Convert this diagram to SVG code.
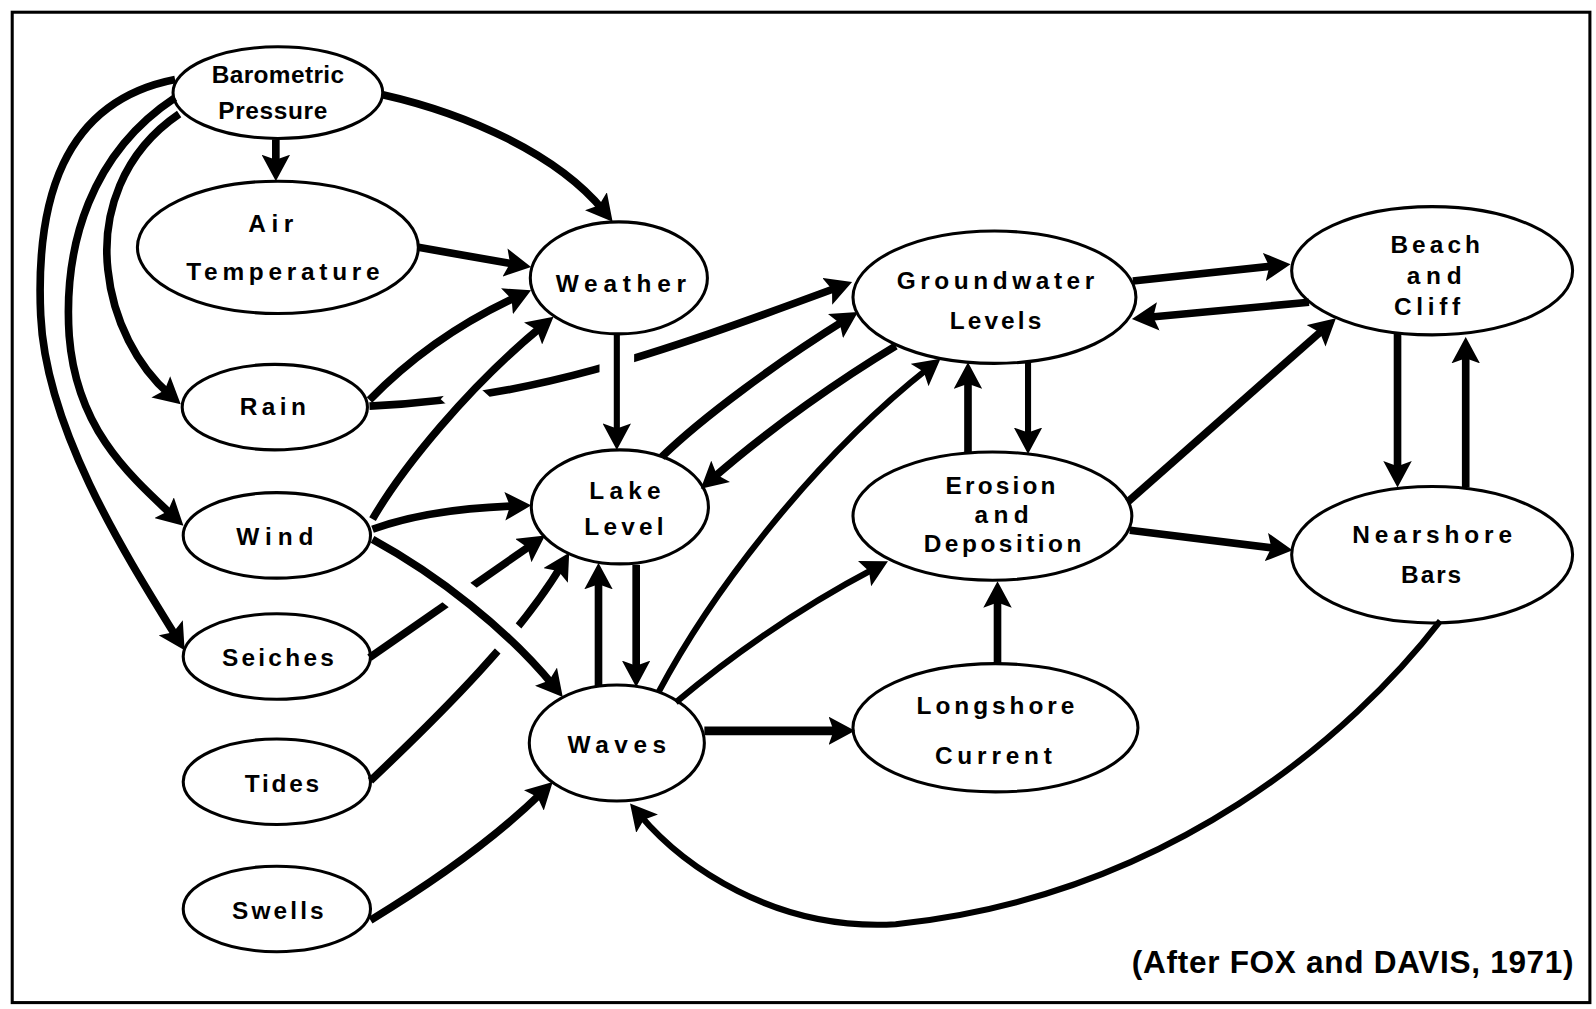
<svg xmlns="http://www.w3.org/2000/svg" width="1596" height="1009" viewBox="0 0 1596 1009">
<defs>
<style>
.node ellipse{fill:#fff;stroke:#000;stroke-width:3}
.node text,.cap{font-family:"Liberation Sans",Arial,sans-serif;font-weight:bold;font-size:24px;fill:#000;text-anchor:middle}
.cap{font-size:31px;text-anchor:end}
.c{fill:none;stroke:#000;stroke-width:7.5;marker-end:url(#ah)}
.t{stroke-width:6}
.gap{fill:none;stroke:#fff;stroke-width:34}
</style>
<marker id="ah" viewBox="0 0 26 28" refX="12" refY="14" markerWidth="26" markerHeight="28" markerUnits="userSpaceOnUse" orient="auto">
<path d="M0,0 L26,14 L0,28 L5,14 Z" fill="#000"/>
</marker>
</defs>
<rect width="1596" height="1009" fill="#fff"/>
<g transform="scale(1.01786)">
<rect id="frame" x="12" y="12" width="1550" height="973" fill="none" stroke="#000" stroke-width="3"/>

<g id="nodes">
<g id="barometric" class="node"><ellipse cx="273" cy="91" rx="103" ry="45"/><text x="273" y="82" textLength="130">Barometric</text><text x="268" y="117" textLength="107">Pressure</text></g>
<g id="air-temperature" class="node"><ellipse cx="273" cy="243" rx="138" ry="65"/><text x="266" y="228" textLength="44">Air</text><text x="278" y="275" textLength="190">Temperature</text></g>
<g id="weather" class="node"><ellipse cx="608" cy="273" rx="87" ry="55"/><text x="610" y="287" textLength="128">Weather</text></g>
<g id="rain" class="node"><ellipse cx="270" cy="400" rx="91" ry="42"/><text x="268" y="408" textLength="65">Rain</text></g>
<g id="wind" class="node"><ellipse cx="272" cy="526" rx="92" ry="42"/><text x="270" y="535" textLength="76">Wind</text></g>
<g id="seiches" class="node"><ellipse cx="272" cy="645" rx="92" ry="42"/><text x="273" y="654" textLength="110">Seiches</text></g>
<g id="tides" class="node"><ellipse cx="272" cy="768" rx="92" ry="42"/><text x="277" y="778" textLength="73">Tides</text></g>
<g id="swells" class="node"><ellipse cx="272" cy="893" rx="92" ry="42"/><text x="273" y="903" textLength="90">Swells</text></g>
<g id="lake-level" class="node"><ellipse cx="609" cy="498" rx="87" ry="56"/><text x="614" y="490" textLength="70">Lake</text><text x="613" y="526" textLength="78">Level</text></g>
<g id="waves" class="node"><ellipse cx="606" cy="730" rx="86" ry="57"/><text x="606" y="740" textLength="97">Waves</text></g>
<g id="groundwater" class="node"><ellipse cx="977" cy="292" rx="139" ry="65"/><text x="978" y="284" textLength="194">Groundwater</text><text x="978" y="323" textLength="90">Levels</text></g>
<g id="erosion" class="node"><ellipse cx="975" cy="507" rx="137" ry="63"/><text x="983" y="485" textLength="108">Erosion</text><text x="984" y="514" textLength="53">and</text><text x="985" y="542" textLength="155">Deposition</text></g>
<g id="longshore" class="node"><ellipse cx="978" cy="715" rx="140" ry="63"/><text x="978" y="701" textLength="155">Longshore</text><text x="976" y="751" textLength="115">Current</text></g>
<g id="beach" class="node"><ellipse cx="1407" cy="266" rx="138" ry="63"/><text x="1410" y="249" textLength="88">Beach</text><text x="1409" y="279" textLength="54">and</text><text x="1402" y="309" textLength="65">Cliff</text></g>
<g id="nearshore" class="node"><ellipse cx="1407" cy="545" rx="138" ry="67"/><text x="1407" y="533" textLength="157">Nearshore</text><text x="1406" y="573" textLength="59">Bars</text></g>
</g>

<g id="connectors">
<path class="c" d="M363,399 C520,392 640,350 824,282"/>
<path class="c" d="M363,646 L524,534"/>
<path class="c" d="M364,767 C440,695 512,622 552,555"/>
<path class="gap" d="M445.6,403.6 L468.4,378.4"/>
<path class="gap" d="M606,340 L606,374"/>
<path class="gap" d="M438,574 L466,596" style="stroke-width:32"/>
<path class="gap" d="M487,616 L511,638" style="stroke-width:32"/>

<path class="c" d="M271,137 L271,164"/>
<path class="c" d="M376,93 C460,112 548,152 593,207"/>
<path class="c" d="M172,78 C60,100 35,200 40,310 C45,420 120,540 174,627"/>
<path class="c" d="M172,96 C90,150 62,240 68,330 C75,420 125,465 170,507"/>
<path class="c" d="M176,112 C120,150 100,210 106,265 C111,315 135,360 167,388"/>
<path class="c" d="M411,243 L508,260"/>
<path class="c" d="M363,393 C400,355 450,318 509,291"/>
<path class="c" d="M366,510 C395,460 460,380 533,320"/>
<path class="c" d="M366,520 Q420,500 508,497"/>
<path class="c" d="M366,530 C430,565 498,618 544,674"/>
<path class="c" d="M364,904 C420,870 485,825 533,778"/>
<path class="c t" d="M606,329 L606,428"/>
<path class="c" d="M625,555 L625,661"/>
<path class="c" d="M588,674 L588,567"/>
<path class="c" d="M650,449 C690,410 765,355 831,314"/>
<path class="c" d="M880,340 C830,370 757,420 699,471"/>
<path class="c t" d="M647,680 C700,580 800,450 913,361"/>
<path class="c t" d="M664,690 Q757,612 860,558"/>
<path class="c" d="M692,718 L826,718" style="stroke-width:8.5"/>
<path class="c" d="M1113,276 L1254,261"/>
<path class="c" d="M1286,297 L1126,312"/>
<path class="c" d="M951,445 L951,370"/>
<path class="c t" d="M1010,356 L1010,432"/>
<path class="c" d="M1108,493 L1302,322"/>
<path class="c" d="M1110,521 L1256,539"/>
<path class="c" d="M980,652 L980,585"/>
<path class="c" d="M1373,327 L1373,465"/>
<path class="c" d="M1440,479 L1440,345"/>
<path class="c t" d="M1415,610 C1330,720 1150,880 880,908 C760,915 670,850 628,800"/>
</g>

<text class="cap" x="1546" y="956" textLength="434">(After FOX and DAVIS, 1971)</text>
</g>
</svg>
